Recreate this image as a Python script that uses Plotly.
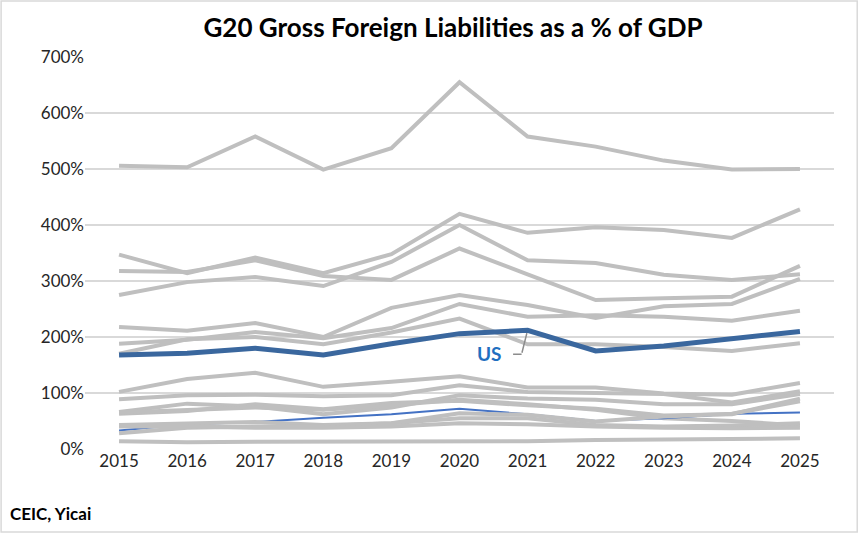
import plotly.graph_objects as go

years = [2015, 2016, 2017, 2018, 2019, 2020, 2021, 2022, 2023, 2024, 2025]

# other G20 members (grey), % of GDP
other_1 = [506, 503, 558, 499, 537, 655, 558, 540, 515, 499, 500]
other_2 = [347, 314, 342, 314, 348, 420, 386, 396, 391, 377, 428]
other_3 = [318, 316, 337, 309, 302, 358, 312, 266, 269, 272, 327]
other_4 = [275, 298, 307, 291, 334, 400, 337, 332, 311, 302, 312]
other_5 = [218, 211, 225, 200, 252, 275, 257, 234, 255, 259, 304]
other_6 = [188, 195, 209, 198, 216, 259, 236, 239, 236, 229, 247]
other_7 = [170, 196, 200, 187, 208, 233, 187, 187, 182, 175, 189]
other_8 = [102, 125, 136, 111, 120, 130, 110, 110, 99, 97, 118]
other_9 = [89, 96, 97, 94, 96, 114, 102, 100, 98, 83, 103]
other_10 = [66, 81, 76, 62, 74, 96, 90, 88, 80, 80, 98]
other_11 = [63, 68, 80, 71, 82, 86, 78, 72, 60, 62, 90]
other_12 = [65, 70, 74, 70, 78, 88, 80, 70, 55, 50, 42]
other_13 = [43, 46, 48, 43, 46, 55, 55, 43, 40, 42, 46]
other_14 = [28, 38, 40, 41, 46, 64, 61, 49, 58, 63, 85]
other_15 = [40, 40, 38, 38, 40, 46, 44, 40, 38, 37, 38]
other_16 = [14, 12, 13, 13, 13, 14, 14, 16, 17, 18, 19]

highlight_thin = [33, 44, 48, 56, 62, 72, 62, 50, 55, 63, 65]
us = [168, 171, 180, 168, 188, 206, 212, 175, 184, 196, 210]

greys = [other_1, other_2, other_3, other_4, other_5, other_6, other_7, other_8,
         other_9, other_10, other_11, other_12, other_13, other_14, other_15, other_16]

GREY = "#BFBFBF"
FONT = "Lato"

fig = go.Figure()

for i, vals in enumerate(greys):
    fig.add_trace(go.Scatter(x=years, y=vals, mode="lines",
                             line=dict(color=GREY, width=4), showlegend=False))
    if i == 11:
        fig.add_trace(go.Scatter(x=years, y=highlight_thin, mode="lines",
                                 line=dict(color="#4472C4", width=2), showlegend=False))

fig.add_trace(go.Scatter(x=years, y=us, mode="lines",
                         line=dict(color="#3A679E", width=5), showlegend=False))

# elbow leader line for the US label
fig.add_annotation(x=2021, y=us[6], ax=-6, ay=24, text="", showarrow=True,
                   arrowhead=0, arrowwidth=1.5, arrowcolor="#8C8C8C", standoff=3)
fig.add_annotation(x=2021, y=us[6], ax=-10, ay=0, text="", showarrow=True,
                   arrowhead=0, arrowwidth=1.5, arrowcolor="#8C8C8C", standoff=0,
                   xshift=-6, yshift=-24)
fig.add_annotation(x=2020, y=us[6], text="<b>US</b>", showarrow=False,
                   xshift=30, yshift=-23, font=dict(family=FONT, size=19, color="#1F6FC0"))

fig.add_annotation(xref="paper", yref="paper", x=-0.103, y=-0.165, xanchor="left", yanchor="middle",
                   text="<b>CEIC, Yicai</b>", showarrow=False,
                   font=dict(family=FONT, size=17, color="#000000"))

fig.add_shape(type="rect", xref="paper", yref="paper",
              x0=-0.112, x1=1.031, y0=-0.212, y1=1.143,
              line=dict(color="#D9D9D9", width=1.5), layer="above")

fig.update_layout(
    width=858, height=533,
    title=dict(text="<b>G20 Gross Foreign Liabilities as a % of GDP</b>",
               x=0.528, xanchor="center", y=0.947, yanchor="middle",
               font=dict(family=FONT, size=26, color="#000000")),
    plot_bgcolor="white", paper_bgcolor="white",
    margin=dict(l=85, r=24, t=57, b=84),
    font=dict(family=FONT, size=17, color="#262626"),
    xaxis=dict(range=[2014.5, 2025.5], tickmode="array", tickvals=years,
               showgrid=False, zeroline=False, showline=False, ticks=""),
    yaxis=dict(range=[0, 700], dtick=100, ticksuffix="%", showgrid=True,
               gridcolor="#D9D9D9", gridwidth=1.5, zeroline=False, ticks=""),
)

fig.write_html("out.html", config={"displayModeBar": False},
               post_script="document.body.style.margin='0';")
